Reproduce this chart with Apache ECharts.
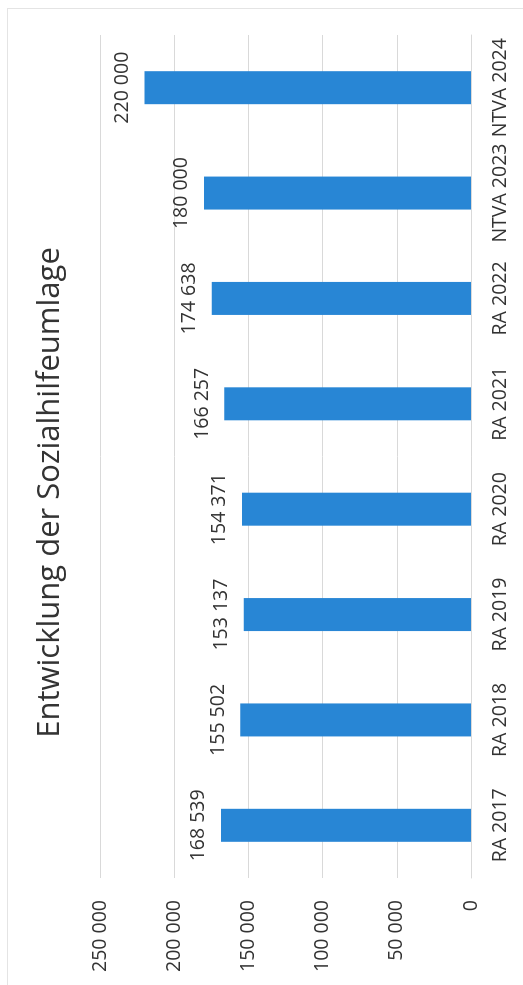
<!DOCTYPE html>
<html>
<head>
<meta charset="utf-8">
<script src="https://cdn.jsdelivr.net/npm/echarts@6/dist/echarts.min.js"></script>
<style>
  html, body { margin: 0; padding: 0; background: #fff; overflow: hidden; }
  #frame { position: absolute; left: 7px; top: 8px; width: 700px; height: 1100px;
           border: 1px solid #e4e4e4; box-sizing: border-box; }
  #chart { position: absolute; left: 0; top: 0; width: 985px; height: 523px;
           transform-origin: 0 0; transform: translate(0, 985px) rotate(-90deg); }
</style>
</head>
<body>
<div id="frame"></div>
<div id="chart"></div>
<script>
const titleText = 'Entwicklung der Sozialhilfeumlage';
const categories = ['RA 2017', 'RA 2018', 'RA 2019', 'RA 2020', 'RA 2021', 'RA 2022', 'NTVA 2023', 'NTVA 2024'];
const values = [168539, 155502, 153137, 154371, 166257, 174638, 180000, 220000];
const axisMin = 0;
const axisMax = 250000;
const axisInterval = 50000;

function fmt(v) {
  return String(Math.round(v)).replace(/\B(?=(\d{3})+(?!\d))/g, ' ');
}

const font = '"Open Sans", "Noto Sans", sans-serif';
const chart = echarts.init(document.getElementById('chart'), null, { renderer: 'canvas' });
chart.setOption({
  animation: false,
  backgroundColor: 'transparent',
  title: {
    text: titleText,
    left: 'center',
    top: 30,
    textStyle: { fontFamily: font, fontSize: 31, fontWeight: 'normal', color: '#333' }
  },
  grid: { left: 107, right: 35, top: 100, bottom: 52, containLabel: false },
  xAxis: {
    type: 'category',
    data: categories,
    axisLine: { show: true, lineStyle: { color: '#d9d9d9' } },
    axisTick: { show: false },
    axisLabel: { fontFamily: font, fontSize: 19.5, color: '#333', margin: 19, interval: 0 }
  },
  yAxis: {
    type: 'value',
    min: axisMin,
    max: axisMax,
    interval: axisInterval,
    axisLine: { show: false },
    axisTick: { show: false },
    splitLine: { show: true, lineStyle: { color: '#d9d9d9', width: 1 } },
    axisLabel: { fontFamily: font, fontSize: 19.5, color: '#333', margin: 22, formatter: fmt }
  },
  series: [{
    type: 'bar',
    data: values,
    barWidth: 33,
    itemStyle: { color: '#2886d5' },
    label: {
      show: true,
      position: 'top',
      distance: 12,
      fontFamily: font,
      fontSize: 19.5,
      color: '#333',
      formatter: p => fmt(p.value)
    }
  }]
});
</script>
</body>
</html>
